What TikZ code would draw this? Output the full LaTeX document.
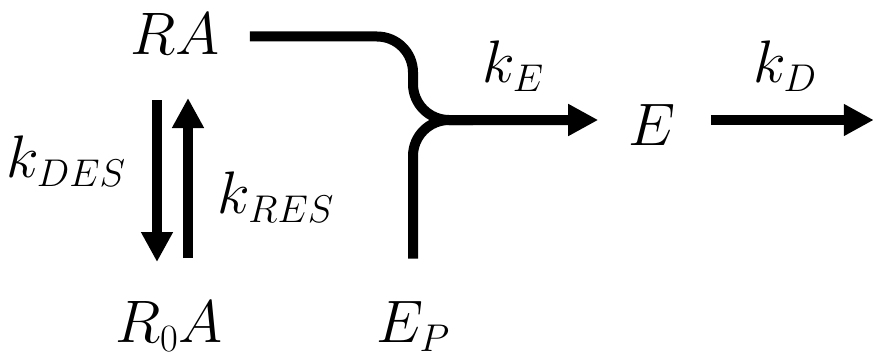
\RequirePackage{fix-cm}
\documentclass[tikz,border=0pt]{standalone}
\usetikzlibrary{arrows.meta,calc}
\DeclareMathSizes{45}{45}{29}{22}

\begin{document}
\begin{tikzpicture}[x=0.75pt, y=-0.75pt,
        species/.style={inner sep=0pt, anchor=base, font=\fontsize{45}{50}\selectfont},
        rate/.style={inner sep=0pt, anchor=base, font=\fontsize{45}{50}\selectfont},
        flow/.style={line width=7.5pt, -{Triangle[length=22.5pt, width=22.5pt]}},
        feed/.style={line width=7.5pt, rounded corners=27pt}]
    \useasboundingbox (0,0) rectangle (873,360);
    % species
    \node[species] (RA) at (175,55) {$RA$};
    \node[species] (R0A) at (169,342) {$R_0A$};
    \node[species] (EP) at (413,342) {$E_P$};
    \node[species] (E) at (652,145) {$E$};
    % rate constants
    \node[rate] (kDES) at (66,177) {$k_{DES}$};
    \node[rate] (kRES) at (276,213) {$k_{RES}$};
    \node[rate] (kE) at (513,82) {$k_E$};
    \node[rate] (kD) at (785,82) {$k_D$};
    \coordinate (join) at ($(EP.base |- E.base)+(0,-25)$);
    % desorption / resorption
    \draw[flow] ($(RA.base)+(-18,45)$) -- ($(R0A.base)+(-12,-80)$);
    \draw[flow] ($(R0A.base)+(19,-84)$) -- ($(RA.base)+(13,43)$);
    % formation of E
    \draw[feed] ($(EP.north)+(0,-42)$) |- ($(join)+(60,0)$);
    \draw[feed, flow] ($(RA.east)+(30,2)$) -| (join) -- ($(join -| E.west)+(-30,0)$);
    % decay
    \draw[flow] ($(join -| E.east)+(35,0)$) -- ($(join -| E.east)+(198,0)$);
\end{tikzpicture}
\end{document}
